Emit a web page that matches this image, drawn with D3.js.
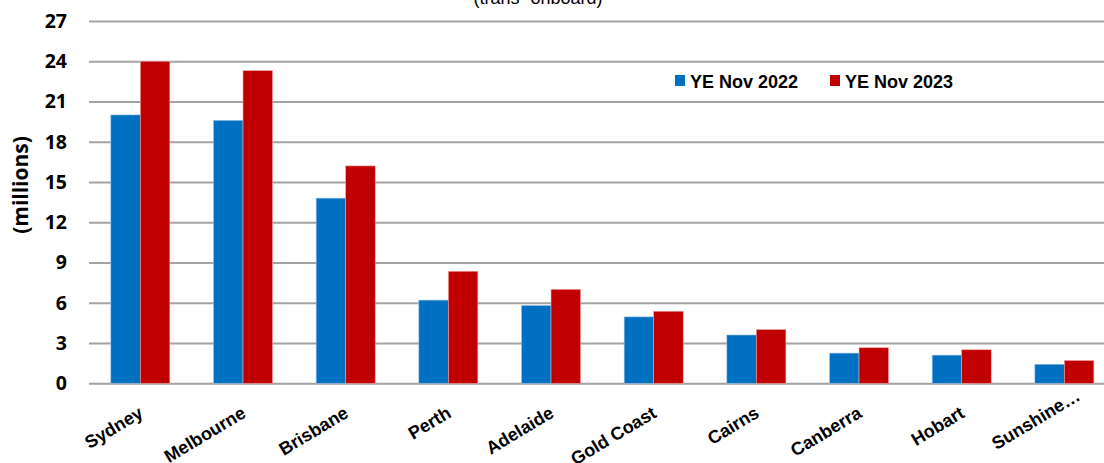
<!DOCTYPE html>
<html>
<head>
<meta charset="utf-8">
<script src="https://cdn.jsdelivr.net/npm/d3@7"></script>
<style>
  html, body { margin: 0; padding: 0; background: #fff; }
  svg { display: block; }
</style>
</head>
<body>
<svg id="chart" width="1104" height="463"></svg>
<script>
const categories = ["Sydney", "Melbourne", "Brisbane", "Perth", "Adelaide", "Gold Coast", "Cairns", "Canberra", "Hobart", "Sunshine…"];
const seriesNames = ["YE Nov 2022", "YE Nov 2023"];
const values2022 = [20.0, 19.6, 13.8, 6.2, 5.8, 4.95, 3.6, 2.25, 2.1, 1.42];
const values2023 = [24.0, 23.3, 16.2, 8.35, 7.0, 5.37, 4.0, 2.65, 2.5, 1.7];
const yTicks = [0, 3, 6, 9, 12, 15, 18, 21, 24, 27];
const colors = ["#0070c0", "#c00000"];

const svg = d3.select("#chart");
const plotLeft = 89, plotRight = 1115.7, plotTop = 21, plotBottom = 383.3;

const x0 = d3.scaleBand().domain(categories).range([plotLeft, plotRight]).paddingInner(0.425).paddingOuter(0.2125);
const x1 = d3.scaleBand().domain(seriesNames).range([0, x0.bandwidth()]).padding(0);
const y = d3.scaleLinear().domain([0, 27]).range([plotBottom, plotTop]);

// subtitle (clipped at top, as in the reference)
svg.append("text")
  .attr("x", 538).attr("y", 4)
  .attr("text-anchor", "middle")
  .style("font-family", "'Liberation Sans', Arial, sans-serif")
  .style("font-size", "18px")
  .attr("fill", "#000")
  .text("(trans- onboard)");

// gridlines + y tick labels
const yAxis = d3.axisLeft(y).tickValues(yTicks).tickSize(-(plotRight - plotLeft)).tickPadding(22).tickFormat(d3.format("d"));
const gAxis = svg.append("g").attr("transform", `translate(${plotLeft},0)`).call(yAxis);
gAxis.select(".domain").remove();
gAxis.selectAll(".tick line").attr("stroke", "#a3a3a3").attr("stroke-width", 2);
gAxis.selectAll(".tick text")
  .style("font-family", "'Open Sans', sans-serif")
  .style("font-weight", "700")
  .style("font-size", "19.5px")
  .attr("fill", "#000");

// bars
const data = categories.map((c, i) => ({ c, vals: [values2022[i], values2023[i]] }));
const groups = svg.append("g").selectAll("g").data(data).join("g")
  .attr("transform", d => `translate(${x0(d.c)},0)`);
groups.selectAll("rect").data(d => d.vals.map((v, j) => ({ v, s: seriesNames[j], j })))
  .join("rect")
  .attr("x", d => x1(d.s))
  .attr("y", d => y(d.v))
  .attr("width", x1.bandwidth())
  .attr("height", d => y(0) - y(d.v))
  .attr("fill", d => colors[d.j])
  .attr("stroke", d => d.j === 0 ? "#9cc3e6" : "#f2a0a0")
  .attr("stroke-width", 0.6);

// x labels
const xAxis = d3.axisBottom(x0).tickSize(0).tickPadding(0);
const gx = svg.append("g").attr("transform", `translate(0,${plotBottom})`).call(xAxis);
gx.select(".domain").remove();
gx.selectAll(".tick text")
  .attr("text-anchor", "end")
  .attr("dy", null)
  .attr("transform", "translate(4,33) rotate(-31)")
  .attr("y", 0)
  .attr("x", 0)
  .style("font-family", "'Liberation Sans', Arial, sans-serif")
  .style("font-weight", "700")
  .style("font-size", "18px")
  .attr("fill", "#000");
// truncated label sits further along its line, as in the reference
gx.selectAll(".tick text").filter(d => d.endsWith("…"))
  .attr("x", 20).attr("y", -8);

// y title
svg.append("text")
  .attr("transform", "translate(28,185) rotate(-90)")
  .attr("text-anchor", "middle")
  .style("font-family", "'Open Sans', sans-serif")
  .style("font-weight", "700")
  .style("font-size", "21px")
  .attr("fill", "#000")
  .text("(millions)");

// legend
const legendX = [675, 830];
const lg = svg.append("g").selectAll("g").data(seriesNames).join("g")
  .attr("transform", (d, i) => `translate(${legendX[i]},75)`);
lg.append("rect").attr("width", 10).attr("height", 11).attr("fill", (d, i) => colors[i]);
lg.append("text").attr("x", 15).attr("y", 12.5)
  .style("font-family", "'Liberation Sans', Arial, sans-serif")
  .style("font-weight", "700")
  .style("font-size", "18px")
  .attr("fill", "#000")
  .text(d => d);
</script>
</body>
</html>
